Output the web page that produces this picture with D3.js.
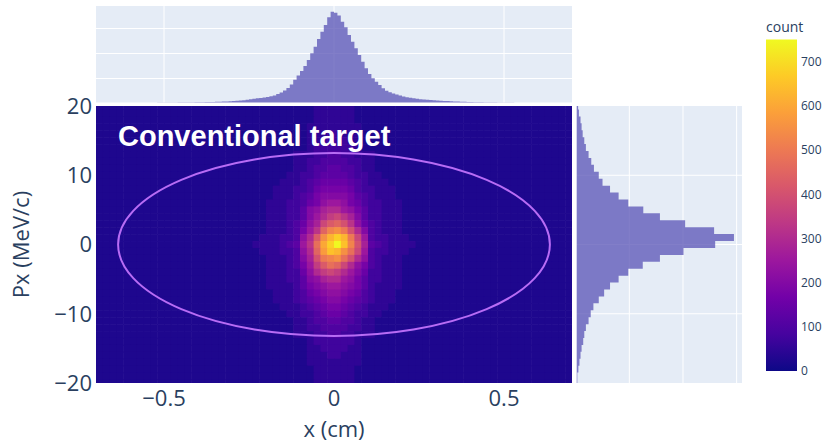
<!DOCTYPE html>
<html>
<head>
<meta charset="utf-8">
<script src="https://cdn.jsdelivr.net/npm/d3@7"></script>
<style>
body { margin: 0; background: #fff; }
svg { display: block; }
text { font-family: "Open Sans", sans-serif; fill: #2a3f5f; }
</style>
</head>
<body>
<div id="vis"></div>
<script>
// ---- data ----
// top marginal: counts per 0.01 cm bin, from x = -0.70 to 0.70
const xBinStart = -0.7, xBinWidth = 0.01;
const xCounts = [
    10, 10, 15, 10, 10, 15, 10, 15, 15, 20,
    15, 20, 20, 20, 25, 20, 25, 25, 30, 30,
    30, 30, 35, 35, 40, 40, 40, 45, 45, 50,
    50, 55, 60, 60, 65, 70, 75, 80, 85, 90,
    100, 110, 120, 130, 150, 170, 190,
    210, 220, 240, 260, 290, 320, 380, 440, 520, 620,
    760, 950, 1120, 1300, 1500, 1740, 2010, 2270, 2580, 2870,
    3140, 3450, 3670, 3630, 3520, 3270, 3050, 2740, 2470, 2210,
    1940, 1670, 1410, 1180, 1010, 870, 740, 610, 510, 450,
    400, 360, 320, 280, 250, 230, 210,
    190, 170, 160, 150, 140, 130, 120, 110, 105, 100,
    90, 85, 80, 75, 70, 65, 60, 55, 50, 50,
    45, 40, 40, 40, 35, 35, 30, 30, 30, 25,
    25, 25, 20, 20, 20, 20, 15, 15, 20, 15,
    15, 10, 15, 10, 10, 10
];

// right marginal: Px bin centres (MeV/c, width 1) and counts
const pxCenters = [20, 19, 18, 17, 16, 15, 14, 13, 12, 11, 10, 9, 8, 7, 6, 5, 4, 3, 2, 1, 0,
    -1, -2, -3, -4, -5, -6, -7, -8, -9, -10, -11, -12, -13, -14, -15, -16, -17, -18, -19, -20];
const pxCounts = [30, 45, 60, 90, 110, 130, 160, 190, 240, 290, 340, 430, 500, 640, 800, 980, 1260, 1570, 2040, 2580, 2950,
    2600, 2010, 1570, 1250, 980, 800, 640, 530, 430, 330, 280, 240, 190, 160, 140, 110, 90, 70, 50, 30];

// 2d histogram: one row per Px centre above, 70 columns of 0.02 cm from x = -0.70
// each char is a level, count = level * 25
const heatXStart = -0.7, heatXStep = 0.02;
const levelChars = "0123456789abcdefghijklmnopqrstu", levelStep = 25;
const heatRows = [
    "1111111111 1111111111 1111111111 1122222211 1111111111 1111111111 1111111111",
    "1111111111 1111111111 1111111111 1122222211 1111111111 1111111111 1111111111",
    "1111111111 1111111111 1111111111 1122222211 1111111111 1111111111 1111111111",
    "1111111111 1111111111 1111111111 1222222221 1111111111 1111111111 1111111111",
    "1111111111 1111111111 1111111111 1222332221 1111111111 1111111111 1111111111",
    "1111111111 1111111111 1111111111 1223333221 1111111111 1111111111 1111111111",
    "1111111111 1111111111 1111111111 1233333321 1111111111 1111111111 1111111111",
    "1111111111 1111111111 1111111112 2233443322 2111111111 1111111111 1111111111",
    "1111111111 1111111111 1111111112 2334444332 2111111111 1111111111 1111111111",
    "1111111111 1111111111 1111111112 2344554432 2111111111 1111111111 1111111111",
    "1111111111 1111111111 1111111122 3345555433 2211111111 1111111111 1111111111",
    "1111111111 1111111111 1111111222 3456666543 2221111111 1111111111 1111111111",
    "1111111111 1111111111 1111112223 3467777643 3222111111 1111111111 1111111111",
    "1111111111 1111111111 1111112223 4578888754 3222111111 1111111111 1111111111",
    "1111111111 1111111111 1111122233 4679aa9764 3322211111 1111111111 1111111111",
    "1111111111 1111111111 1111122233 589bcca975 3322211111 1111111111 1111111111",
    "1111111111 1111111111 1111122233 58acefdb85 3322211111 1111111111 1111111111",
    "1111111111 1111111111 1111122234 69bfhigd96 4322211111 1111111111 1111111111",
    "1111111111 1111111111 1111122234 7adilmkgc8 4322211111 1111111111 1111111111",
    "1111111111 1111111111 1111222334 9chmprpkfa 4332221111 1111111111 1111111111",
    "1111111111 1111111111 1112222345 adjoruqlgb 5432222111 1111111111 1111111111",
    "1111111111 1111111111 1111222334 9cinqpmjfa 4332221111 1111111111 1111111111",
    "1111111111 1111111111 1111122234 8bgklmjgc9 4322211111 1111111111 1111111111",
    "1111111111 1111111111 1111122234 7aehjifc97 4322211111 1111111111 1111111111",
    "1111111111 1111111111 1111122233 69cefeca86 3322211111 1111111111 1111111111",
    "1111111111 1111111111 1111122233 589bcca975 3322211111 1111111111 1111111111",
    "1111111111 1111111111 1111122223 5789aa9875 3222211111 1111111111 1111111111",
    "1111111111 1111111111 1111112223 4678998764 3222111111 1111111111 1111111111",
    "1111111111 1111111111 1111112223 4567887654 3222111111 1111111111 1111111111",
    "1111111111 1111111111 1111111222 3456776543 2221111111 1111111111 1111111111",
    "1111111111 1111111111 1111111122 3345665433 2211111111 1111111111 1111111111",
    "1111111111 1111111111 1111111112 2344554432 2111111111 1111111111 1111111111",
    "1111111111 1111111111 1111111112 2334444332 2111111111 1111111111 1111111111",
    "1111111111 1111111111 1111111112 2233443322 2111111111 1111111111 1111111111",
    "1111111111 1111111111 1111111111 1233333321 1111111111 1111111111 1111111111",
    "1111111111 1111111111 1111111111 1223333221 1111111111 1111111111 1111111111",
    "1111111111 1111111111 1111111111 1222332221 1111111111 1111111111 1111111111",
    "1111111111 1111111111 1111111111 1222222221 1111111111 1111111111 1111111111",
    "1111111111 1111111111 1111111111 1122222211 1111111111 1111111111 1111111111",
    "1111111111 1111111111 1111111111 1122222211 1111111111 1111111111 1111111111",
    "1111111111 1111111111 1111111111 1122222211 1111111111 1111111111 1111111111"
];

// acceptance ellipse half-axes
const ellipseX = 0.635, ellipsePx = 13.2;

const xTicks = [-0.5, 0, 0.5];
const pxTicks = [20, 10, 0, -10, -20];
const countTicks = [0, 100, 200, 300, 400, 500, 600, 700];
const zMax = 750;
const plasma = ['#0d0887', '#46039f', '#7201a8', '#9c179e', '#bd3786', '#d8576b', '#ed7953', '#fb9f3a', '#fdca26', '#f0f921'];

// ---- layout ----
const svg = d3.select("#vis").append("svg")
    .attr("width", 823)
    .attr("height", 443);

const main = {left: 96, right: 572, top: 106, bottom: 383};
const topP = {top: 6, bottom: 103.5};
const rightP = {left: 575.7, right: 742};
const cbar = {left: 766, right: 797, top: 39.5, bottom: 371};

const x = d3.scaleLinear().domain([-0.7, 0.7]).range([main.left, main.right]);
const y = d3.scaleLinear().domain([-20, 20]).range([main.bottom, main.top]);
const yTop = d3.scaleLinear().domain([0, 3900]).range([topP.bottom, topP.top]);
const xRight = d3.scaleLinear().domain([0, 3100]).range([rightP.left, rightP.right]);
const zColor = d3.scaleLinear()
    .domain(plasma.map((d, i) => i / (plasma.length - 1) * zMax))
    .range(plasma)
    .clamp(true);

const barFill = "rgb(88,83,181)", barOpacity = 0.75;

// ---- top marginal ----
const gTop = svg.append("g");
gTop.append("rect")
    .attr("x", main.left).attr("y", topP.top)
    .attr("width", main.right - main.left).attr("height", topP.bottom - topP.top)
    .attr("fill", "#e5ecf6");
gTop.selectAll(".vgrid").data(xTicks).enter().append("line")
    .attr("x1", d => x(d)).attr("x2", d => x(d))
    .attr("y1", topP.top).attr("y2", topP.bottom)
    .attr("stroke", "#fff").attr("stroke-width", 1);
gTop.selectAll(".hgrid").data([1000, 2000, 3000]).enter().append("line")
    .attr("x1", main.left).attr("x2", main.right)
    .attr("y1", d => yTop(d)).attr("y2", d => yTop(d))
    .attr("stroke", "#fff").attr("stroke-width", 1);

// histogram drawn as one stepped outline so neighbouring bars leave no seams
const topSteps = xCounts.map((d, i) => ({e: xBinStart + i * xBinWidth, v: d}));
topSteps.push({e: xBinStart + xCounts.length * xBinWidth, v: xCounts[xCounts.length - 1]});
gTop.append("path")
    .datum(topSteps)
    .attr("d", d3.area()
        .curve(d3.curveStepAfter)
        .x(d => x(d.e))
        .y0(yTop(0))
        .y1(d => yTop(d.v)))
    .attr("fill", barFill)
    .attr("fill-opacity", barOpacity);
gTop.append("line")
    .attr("x1", main.left).attr("x2", main.right)
    .attr("y1", yTop(0)).attr("y2", yTop(0))
    .attr("stroke", "#fff").attr("stroke-width", 2);

// ---- right marginal ----
const gRight = svg.append("g");
gRight.append("rect")
    .attr("x", rightP.left).attr("y", main.top)
    .attr("width", rightP.right - rightP.left).attr("height", main.bottom - main.top)
    .attr("fill", "#e5ecf6");
gRight.selectAll(".vgrid").data([1000, 2000, 3000]).enter().append("line")
    .attr("x1", d => xRight(d)).attr("x2", d => xRight(d))
    .attr("y1", main.top).attr("y2", main.bottom)
    .attr("stroke", "#fff").attr("stroke-width", 1);
gRight.selectAll(".hgrid").data([10, 0, -10]).enter().append("line")
    .attr("x1", rightP.left).attr("x2", rightP.right)
    .attr("y1", d => y(d)).attr("y2", d => y(d))
    .attr("stroke", "#fff").attr("stroke-width", 1);

const rightSteps = pxCounts.map((d, i) => ({e: Math.min(20, pxCenters[i] + 0.5), v: d}));
rightSteps.push({e: -20, v: pxCounts[pxCounts.length - 1]});
gRight.append("path")
    .datum(rightSteps)
    .attr("d", d3.area()
        .curve(d3.curveStepAfter)
        .y(d => y(d.e))
        .x0(xRight(0))
        .x1(d => xRight(d.v)))
    .attr("fill", barFill)
    .attr("fill-opacity", barOpacity);
gRight.append("line")
    .attr("x1", xRight(0)).attr("x2", xRight(0))
    .attr("y1", main.top).attr("y2", main.bottom)
    .attr("stroke", "#fff").attr("stroke-width", 2);

// ---- heatmap ----
svg.append("clipPath").attr("id", "clipMain")
    .append("rect")
    .attr("x", main.left).attr("y", main.top)
    .attr("width", main.right - main.left).attr("height", main.bottom - main.top);

const cells = [];
heatRows.forEach(function (row, r) {
    row.replace(/ /g, "").split("").forEach(function (ch, c) {
        cells.push({px: pxCenters[r], x0: heatXStart + c * heatXStep, v: levelChars.indexOf(ch) * levelStep});
    });
});

const gHeat = svg.append("g").attr("clip-path", "url(#clipMain)");
gHeat.selectAll("rect").data(cells).enter().append("rect")
    .attr("x", d => x(d.x0))
    .attr("width", x(heatXStep) - x(0) + 0.6)
    .attr("y", d => y(d.px + 0.5))
    .attr("height", y(-0.5) - y(0.5) + 0.6)
    .attr("fill", d => zColor(d.v));

gHeat.append("ellipse")
    .attr("cx", x(0)).attr("cy", y(0))
    .attr("rx", x(ellipseX) - x(0))
    .attr("ry", y(0) - y(ellipsePx))
    .attr("fill", "none")
    .attr("stroke", "#b86cf5")
    .attr("stroke-width", 2);

svg.append("text")
    .attr("x", 118).attr("y", 146)
    .style("font-family", "'Liberation Sans', Arial, sans-serif")
    .style("font-weight", "bold")
    .style("font-size", "29px")
    .style("fill", "#fff")
    .text("Conventional target");

// ---- axes ----
svg.selectAll(".xtick").data(xTicks).enter().append("text")
    .attr("x", d => x(d)).attr("y", 406)
    .attr("text-anchor", "middle")
    .style("font-size", "22px")
    .text(d3.format("~g"));
svg.selectAll(".ytick").data(pxTicks).enter().append("text")
    .attr("x", 92).attr("y", d => y(d))
    .attr("dy", "0.36em")
    .attr("text-anchor", "end")
    .style("font-size", "22px")
    .text(d3.format("~g"));
svg.append("text")
    .attr("x", x(0)).attr("y", 437)
    .attr("text-anchor", "middle")
    .style("font-size", "22px")
    .text("x (cm)");
svg.append("text")
    .attr("transform", "translate(29," + y(0) + ") rotate(-90)")
    .attr("text-anchor", "middle")
    .style("font-size", "22px")
    .text("Px (MeV/c)");

// ---- colorbar ----
const cScale = d3.scaleLinear().domain([0, zMax]).range([cbar.bottom, cbar.top]);
const grad = svg.append("defs").append("linearGradient")
    .attr("id", "plasmaGrad")
    .attr("x1", 0).attr("x2", 0).attr("y1", 1).attr("y2", 0);
grad.selectAll("stop").data(plasma).enter().append("stop")
    .attr("offset", (d, i) => i / (plasma.length - 1))
    .attr("stop-color", d => d);
svg.append("rect")
    .attr("x", cbar.left).attr("y", cbar.top)
    .attr("width", cbar.right - cbar.left).attr("height", cbar.bottom - cbar.top)
    .attr("fill", "url(#plasmaGrad)");
svg.selectAll(".ctick").data(countTicks).enter().append("text")
    .attr("x", cbar.right + 4).attr("y", d => cScale(d))
    .attr("dy", "0.36em")
    .style("font-size", "12px")
    .text(d => d);
svg.append("text")
    .attr("x", cbar.left).attr("y", 32)
    .style("font-size", "14px")
    .text("count");
</script>
</body>
</html>
